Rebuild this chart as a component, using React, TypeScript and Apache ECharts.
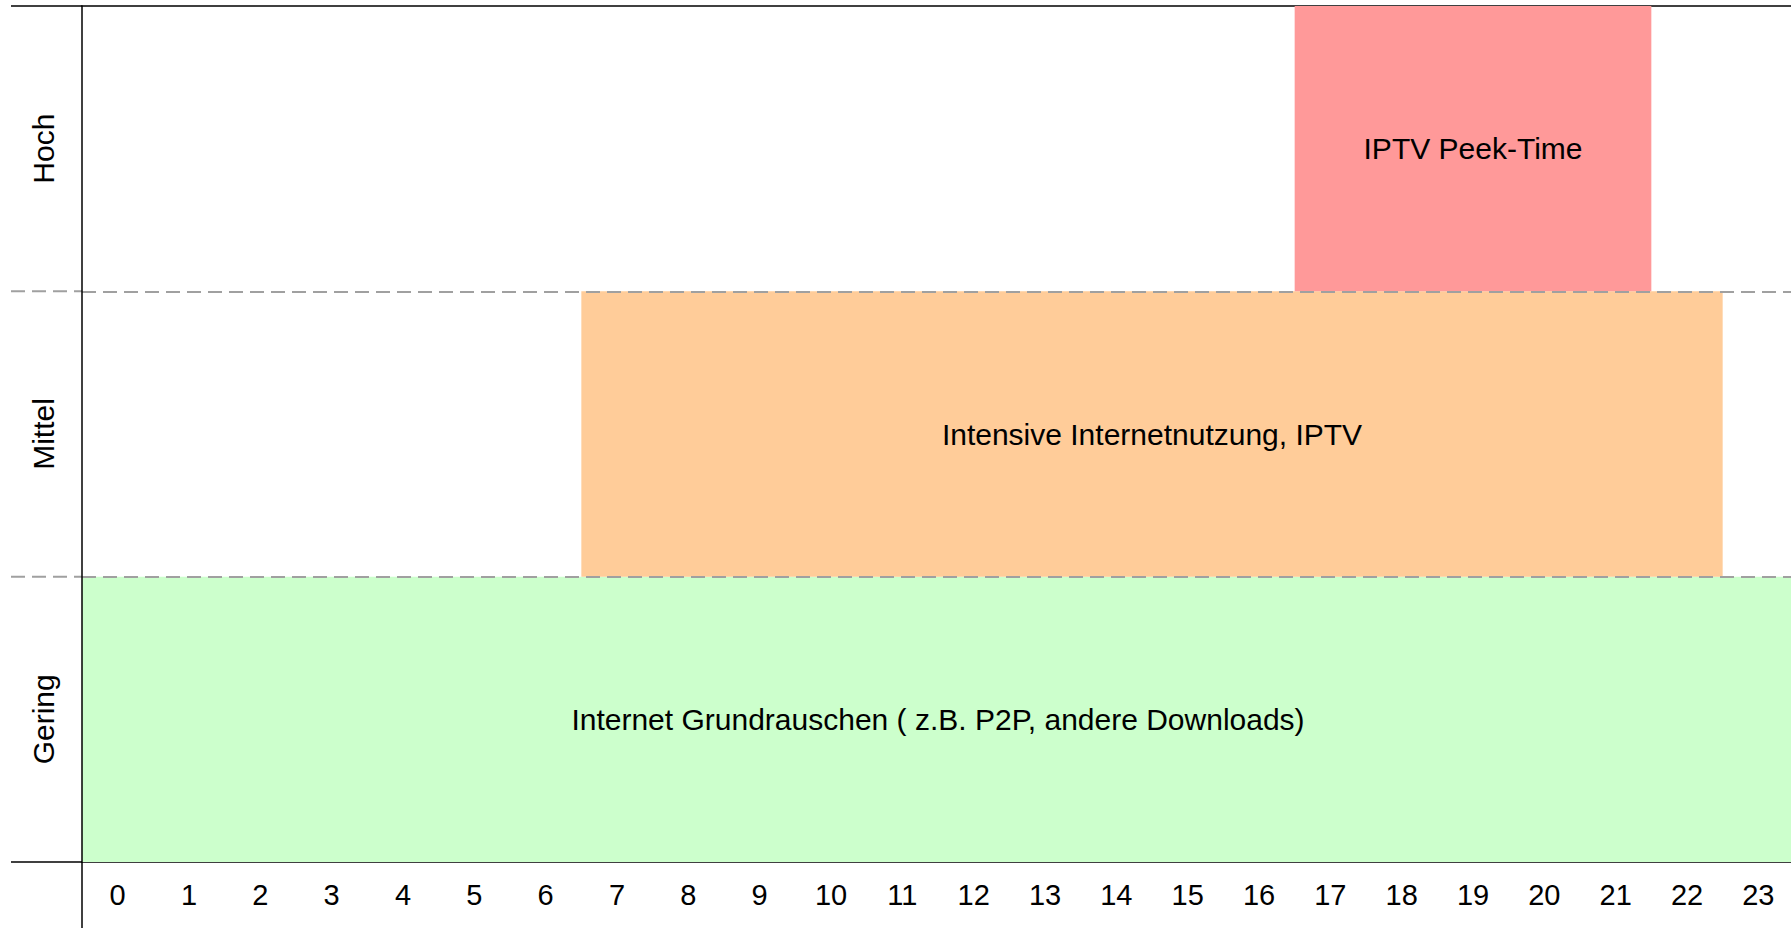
import React, { useEffect, useRef } from "react";
import * as echarts from "echarts";

const hours = ["0", "1", "2", "3", "4", "5", "6", "7", "8", "9", "10", "11", "12", "13", "14", "15", "16", "17", "18", "19", "20", "21", "22", "23"];
const levels = ["Gering", "Mittel", "Hoch"];
const bandLabels = [
  "Internet Grundrauschen ( z.B. P2P, andere Downloads)",
  "Intensive Internetnutzung, IPTV",
  "IPTV Peek-Time",
];
const bandStartHour = [0, 7, 17];
const bandEndHour = [23, 22, 21];
const bandLevel = ["Gering", "Mittel", "Hoch"];
const bandColors = ["#ccffcc", "#ffcc99", "#ff9999"];

const FONT = "'Liberation Sans', Arial, Helvetica, sans-serif";
const GRID_LEFT = 82;
const GRID_TOP = 6;
const GRID_BOTTOM = 66;
const H = 928;
const W = 1794;

export default function App() {
  const ref = useRef<HTMLDivElement>(null);
  useEffect(() => {
    if (!ref.current) return;
    const chart = echarts.init(ref.current, null, { renderer: "svg" });
    const data = bandLabels.map((l, i) => ({
      name: l,
      value: [bandStartHour[i], bandEndHour[i], levels.indexOf(bandLevel[i])],
      itemStyle: { color: bandColors[i] },
    }));
    const bottomY = H - GRID_BOTTOM;
    const bandH = (bottomY - GRID_TOP) / levels.length;
    const ext: any[] = [];
    ext.push({ type: "line", shape: { x1: 11, y1: GRID_TOP, x2: GRID_LEFT, y2: GRID_TOP }, style: { stroke: "#000", lineWidth: 1.5 } });
    ext.push({ type: "line", shape: { x1: 11, y1: bottomY, x2: GRID_LEFT, y2: bottomY }, style: { stroke: "#000", lineWidth: 1.5 } });
    for (let k = 1; k < levels.length; k++) {
      const y = GRID_TOP + k * bandH;
      ext.push({ type: "line", shape: { x1: 11, y1: y, x2: GRID_LEFT, y2: y }, style: { stroke: "#a0a0a0", lineWidth: 2, lineDash: [14, 7] } });
    }
    ext.push({ type: "line", shape: { x1: GRID_LEFT, y1: bottomY, x2: GRID_LEFT, y2: H }, style: { stroke: "#000", lineWidth: 1.5 } });

    chart.setOption({
      animation: false,
      backgroundColor: "#fff",
      grid: { left: GRID_LEFT, right: 0, top: GRID_TOP, bottom: GRID_BOTTOM, containLabel: false },
      xAxis: [
        {
          type: "category",
          data: hours,
          position: "bottom",
          boundaryGap: true,
          axisLine: { show: true, lineStyle: { color: "#000", width: 1.5 } },
          axisTick: { show: false },
          axisLabel: { color: "#000", fontSize: 29, fontFamily: FONT, margin: 18, interval: 0 },
          splitLine: { show: false },
        },
        {
          type: "category",
          data: hours,
          position: "top",
          axisLine: { show: true, lineStyle: { color: "#000", width: 1.5 } },
          axisTick: { show: false },
          axisLabel: { show: false },
          splitLine: { show: false },
        },
      ],
      yAxis: {
        type: "category",
        data: levels,
        z: 5,
        axisLine: { show: true, lineStyle: { color: "#000", width: 1.5 } },
        axisTick: { show: false },
        axisLabel: { color: "#000", fontSize: 30, fontFamily: FONT, rotate: 90, margin: 24 },
        splitLine: {
          show: true,
          showMinLine: false,
          showMaxLine: false,
          lineStyle: { color: "#a0a0a0", width: 2, type: [14, 7] },
        },
      },
      graphic: ext,
      series: [
        {
          type: "custom",
          xAxisIndex: 0,
          yAxisIndex: 0,
          data,
          renderItem: (params: any, api: any) => {
            const s = api.value(0);
            const e = api.value(1);
            const lv = api.value(2);
            const p = api.coord([s, lv]);
            const size = api.size([1, 1]);
            const w = size[0];
            const h = size[1];
            return {
              type: "rect",
              shape: { x: p[0] - w / 2, y: p[1] - h / 2, width: (e - s + 1) * w, height: h },
              style: { fill: api.visual("color") },
              textContent: {
                style: { text: bandLabels[params.dataIndex], fontSize: 30, fill: "#000", fontFamily: FONT },
              },
              textConfig: { position: "inside" },
            };
          },
        },
      ],
    });
    return () => chart.dispose();
  }, []);
  return (
    <div style={{ position: "absolute", left: 0, top: 0, width: 1791, height: H, overflow: "hidden", background: "#fff" }}>
      <div ref={ref} style={{ width: W, height: H }} />
    </div>
  );
}
